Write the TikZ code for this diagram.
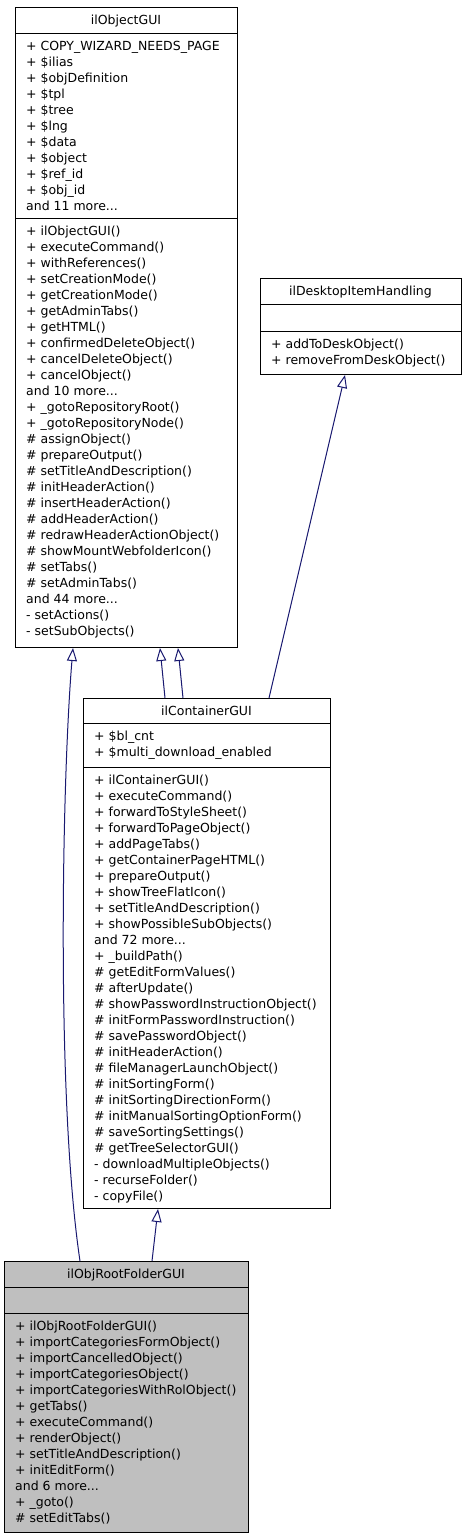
\documentclass[tikz,border=0pt]{standalone}
\usepackage{fontspec}
\setmainfont{DejaVu Sans}
\usetikzlibrary{arrows.meta}
\definecolor{edgeblue}{HTML}{191970}
\definecolor{rootfill}{HTML}{BFBFBF}

\begin{document}
\begin{tikzpicture}[x=1pt, y=-1pt,
        classbox/.style={draw, line width=1pt, anchor=north west, inner sep=0pt},
        compsep/.style={line width=1pt},
        title/.style={anchor=base, inner sep=0pt, font=\fontsize{12.5}{16}\selectfont},
        members/.style={anchor=north west, inner sep=0pt, align=left, font=\fontsize{12.5}{16}\selectfont},
        inherit/.style={draw=edgeblue, line width=1pt, -{Triangle[open, length=13pt, width=10pt]}}
    ]
        \useasboundingbox (0,0) rectangle (467,1539);

        % Class boxes
        \node[classbox, minimum width=222pt, minimum height=640pt] (objgui) at (15,7) {};
        \node[classbox, minimum width=201pt, minimum height=96pt] (deskitem) at (260,278) {};
        \node[classbox, minimum width=247pt, minimum height=510pt] (contgui) at (83,698) {};
        \node[classbox, fill=rootfill, minimum width=244pt, minimum height=271pt] (rootgui) at (4,1261) {};

        % Compartments
        \draw[compsep] (objgui.west |- 0,33) -- (objgui.east |- 0,33);
        \draw[compsep] (objgui.west |- 0,218) -- (objgui.east |- 0,218);
        \draw[compsep] (deskitem.west |- 0,304) -- (deskitem.east |- 0,304);
        \draw[compsep] (deskitem.west |- 0,331) -- (deskitem.east |- 0,331);
        \draw[compsep] (contgui.west |- 0,723) -- (contgui.east |- 0,723);
        \draw[compsep] (contgui.west |- 0,767) -- (contgui.east |- 0,767);
        \draw[compsep] (rootgui.west |- 0,1287) -- (rootgui.east |- 0,1287);
        \draw[compsep] (rootgui.west |- 0,1313) -- (rootgui.east |- 0,1313);

        % Class names
        \node[title] (objtitle) at (126,24.5) {ilObjectGUI};
        \node[title] (desktitle) at (360.5,295.5) {ilDesktopItemHandling};
        \node[title] (conttitle) at (206.5,715) {ilContainerGUI};
        \node[title] (roottitle) at (126,1278.5) {ilObjRootFolderGUI};

        % Members
        \node[members] (objattr) at (26,39.3) {\strut+ COPY\_WIZARD\_NEEDS\_PAGE\\+ \$ilias\\+ \$objDefinition\\+ \$tpl\\+ \$tree\\+ \$lng\\+ \$data\\+ \$object\\+ \$ref\_id\\+ \$obj\_id\\and 11 more...};
        \node[members] (objops) at (26,224.3) {\strut+ ilObjectGUI()\\+ executeCommand()\\+ withReferences()\\+ setCreationMode()\\+ getCreationMode()\\+ getAdminTabs()\\+ getHTML()\\+ confirmedDeleteObject()\\+ cancelDeleteObject()\\+ cancelObject()\\and 10 more...\\+ \_gotoRepositoryRoot()\\+ \_gotoRepositoryNode()\\\# assignObject()\\\# prepareOutput()\\\# setTitleAndDescription()\\\# initHeaderAction()\\\# insertHeaderAction()\\\# addHeaderAction()\\\# redrawHeaderActionObject()\\\# showMountWebfolderIcon()\\\# setTabs()\\\# setAdminTabs()\\and 44 more...\\- setActions()\\- setSubObjects()};
        \node[members] (deskops) at (271,337.3) {\strut+ addToDeskObject()\\+ removeFromDeskObject()};
        \node[members] (contattr) at (94,729.3) {\strut+ \$bl\_cnt\\+ \$multi\_download\_enabled};
        \node[members] (contops) at (94,773.3) {\strut+ ilContainerGUI()\\+ executeCommand()\\+ forwardToStyleSheet()\\+ forwardToPageObject()\\+ addPageTabs()\\+ getContainerPageHTML()\\+ prepareOutput()\\+ showTreeFlatIcon()\\+ setTitleAndDescription()\\+ showPossibleSubObjects()\\and 72 more...\\+ \_buildPath()\\\# getEditFormValues()\\\# afterUpdate()\\\# showPasswordInstructionObject()\\\# initFormPasswordInstruction()\\\# savePasswordObject()\\\# initHeaderAction()\\\# fileManagerLaunchObject()\\\# initSortingForm()\\\# initSortingDirectionForm()\\\# initManualSortingOptionForm()\\\# saveSortingSettings()\\\# getTreeSelectorGUI()\\- downloadMultipleObjects()\\- recurseFolder()\\- copyFile()};
        \node[members] (rootops) at (15,1319.3) {\strut+ ilObjRootFolderGUI()\\+ importCategoriesFormObject()\\+ importCancelledObject()\\+ importCategoriesObject()\\+ importCategoriesWithRolObject()\\+ getTabs()\\+ executeCommand()\\+ renderObject()\\+ setTitleAndDescription()\\+ initEditForm()\\and 6 more...\\+ \_goto()\\\# setEditTabs()};

        % Inheritance
        \draw[inherit] ([xshift=76pt]rootgui.north west) .. controls (56,1100) and (62,780) .. ([xshift=58pt]objgui.south west);
        \draw[inherit] ([xshift=82pt]contgui.north west) -- ([xshift=145pt]objgui.south west);
        \draw[inherit] ([xshift=100pt]contgui.north west) -- ([xshift=163pt]objgui.south west);
        \draw[inherit] ([xshift=186pt]contgui.north west) -- ([xshift=85pt]deskitem.south west);
        \draw[inherit] ([xshift=148pt]rootgui.north west) -- ([xshift=75pt]contgui.south west);
    \end{tikzpicture}
\end{document}
